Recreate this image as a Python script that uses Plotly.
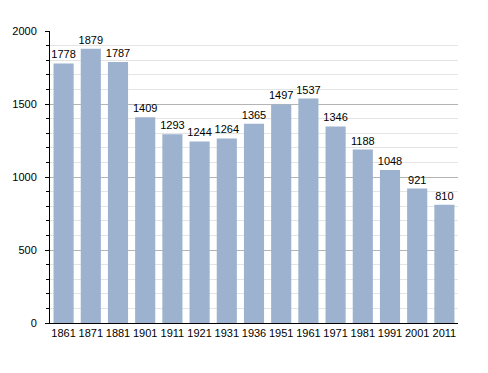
import plotly.graph_objects as go

years = ["1861", "1871", "1881", "1901", "1911", "1921", "1931", "1936",
         "1951", "1961", "1971", "1981", "1991", "2001", "2011"]
population = [1778, 1879, 1787, 1409, 1293, 1244, 1264, 1365,
              1497, 1537, 1346, 1188, 1048, 921, 810]
y_ticks = [0, 500, 1000, 1500, 2000]

fig = go.Figure(go.Bar(
    x=years, y=population,
    marker=dict(color="#9cb2cf", line=dict(width=0)),
    text=[str(v) for v in population],
    textposition="outside",
    constraintext="none",
    textfont=dict(family="Liberation Sans, Arial, sans-serif", size=11, color="#000"),
    cliponaxis=False,
))

fig.update_layout(
    width=480, height=365,
    margin=dict(l=42, r=30, t=23, b=50, autoexpand=False),
    paper_bgcolor="white", plot_bgcolor="white",
    bargap=0.26,
    showlegend=False,
    font=dict(family="Liberation Sans, Arial, sans-serif", size=11, color="#000"),
)
fig.update_xaxes(
    type="category", automargin=False,
    showline=True, linecolor="#000", linewidth=1,
    ticks="", showgrid=False,
    tickfont=dict(size=11),
)
fig.update_yaxes(
    range=[0, 2000], automargin=False,
    tickvals=y_ticks,
    showline=True, linecolor="#000", linewidth=1,
    ticks="outside", ticklen=4, tickcolor="#000",
    showgrid=True, gridcolor="#b4b4b4", gridwidth=1,
    zeroline=False,
    ticklabelstandoff=6,
    minor=dict(dtick=100, showgrid=True, gridcolor="#e4e4e4",
               ticks="outside", ticklen=3, tickcolor="#000"),
    tickfont=dict(size=11),
)

fig.write_html("out.html")
